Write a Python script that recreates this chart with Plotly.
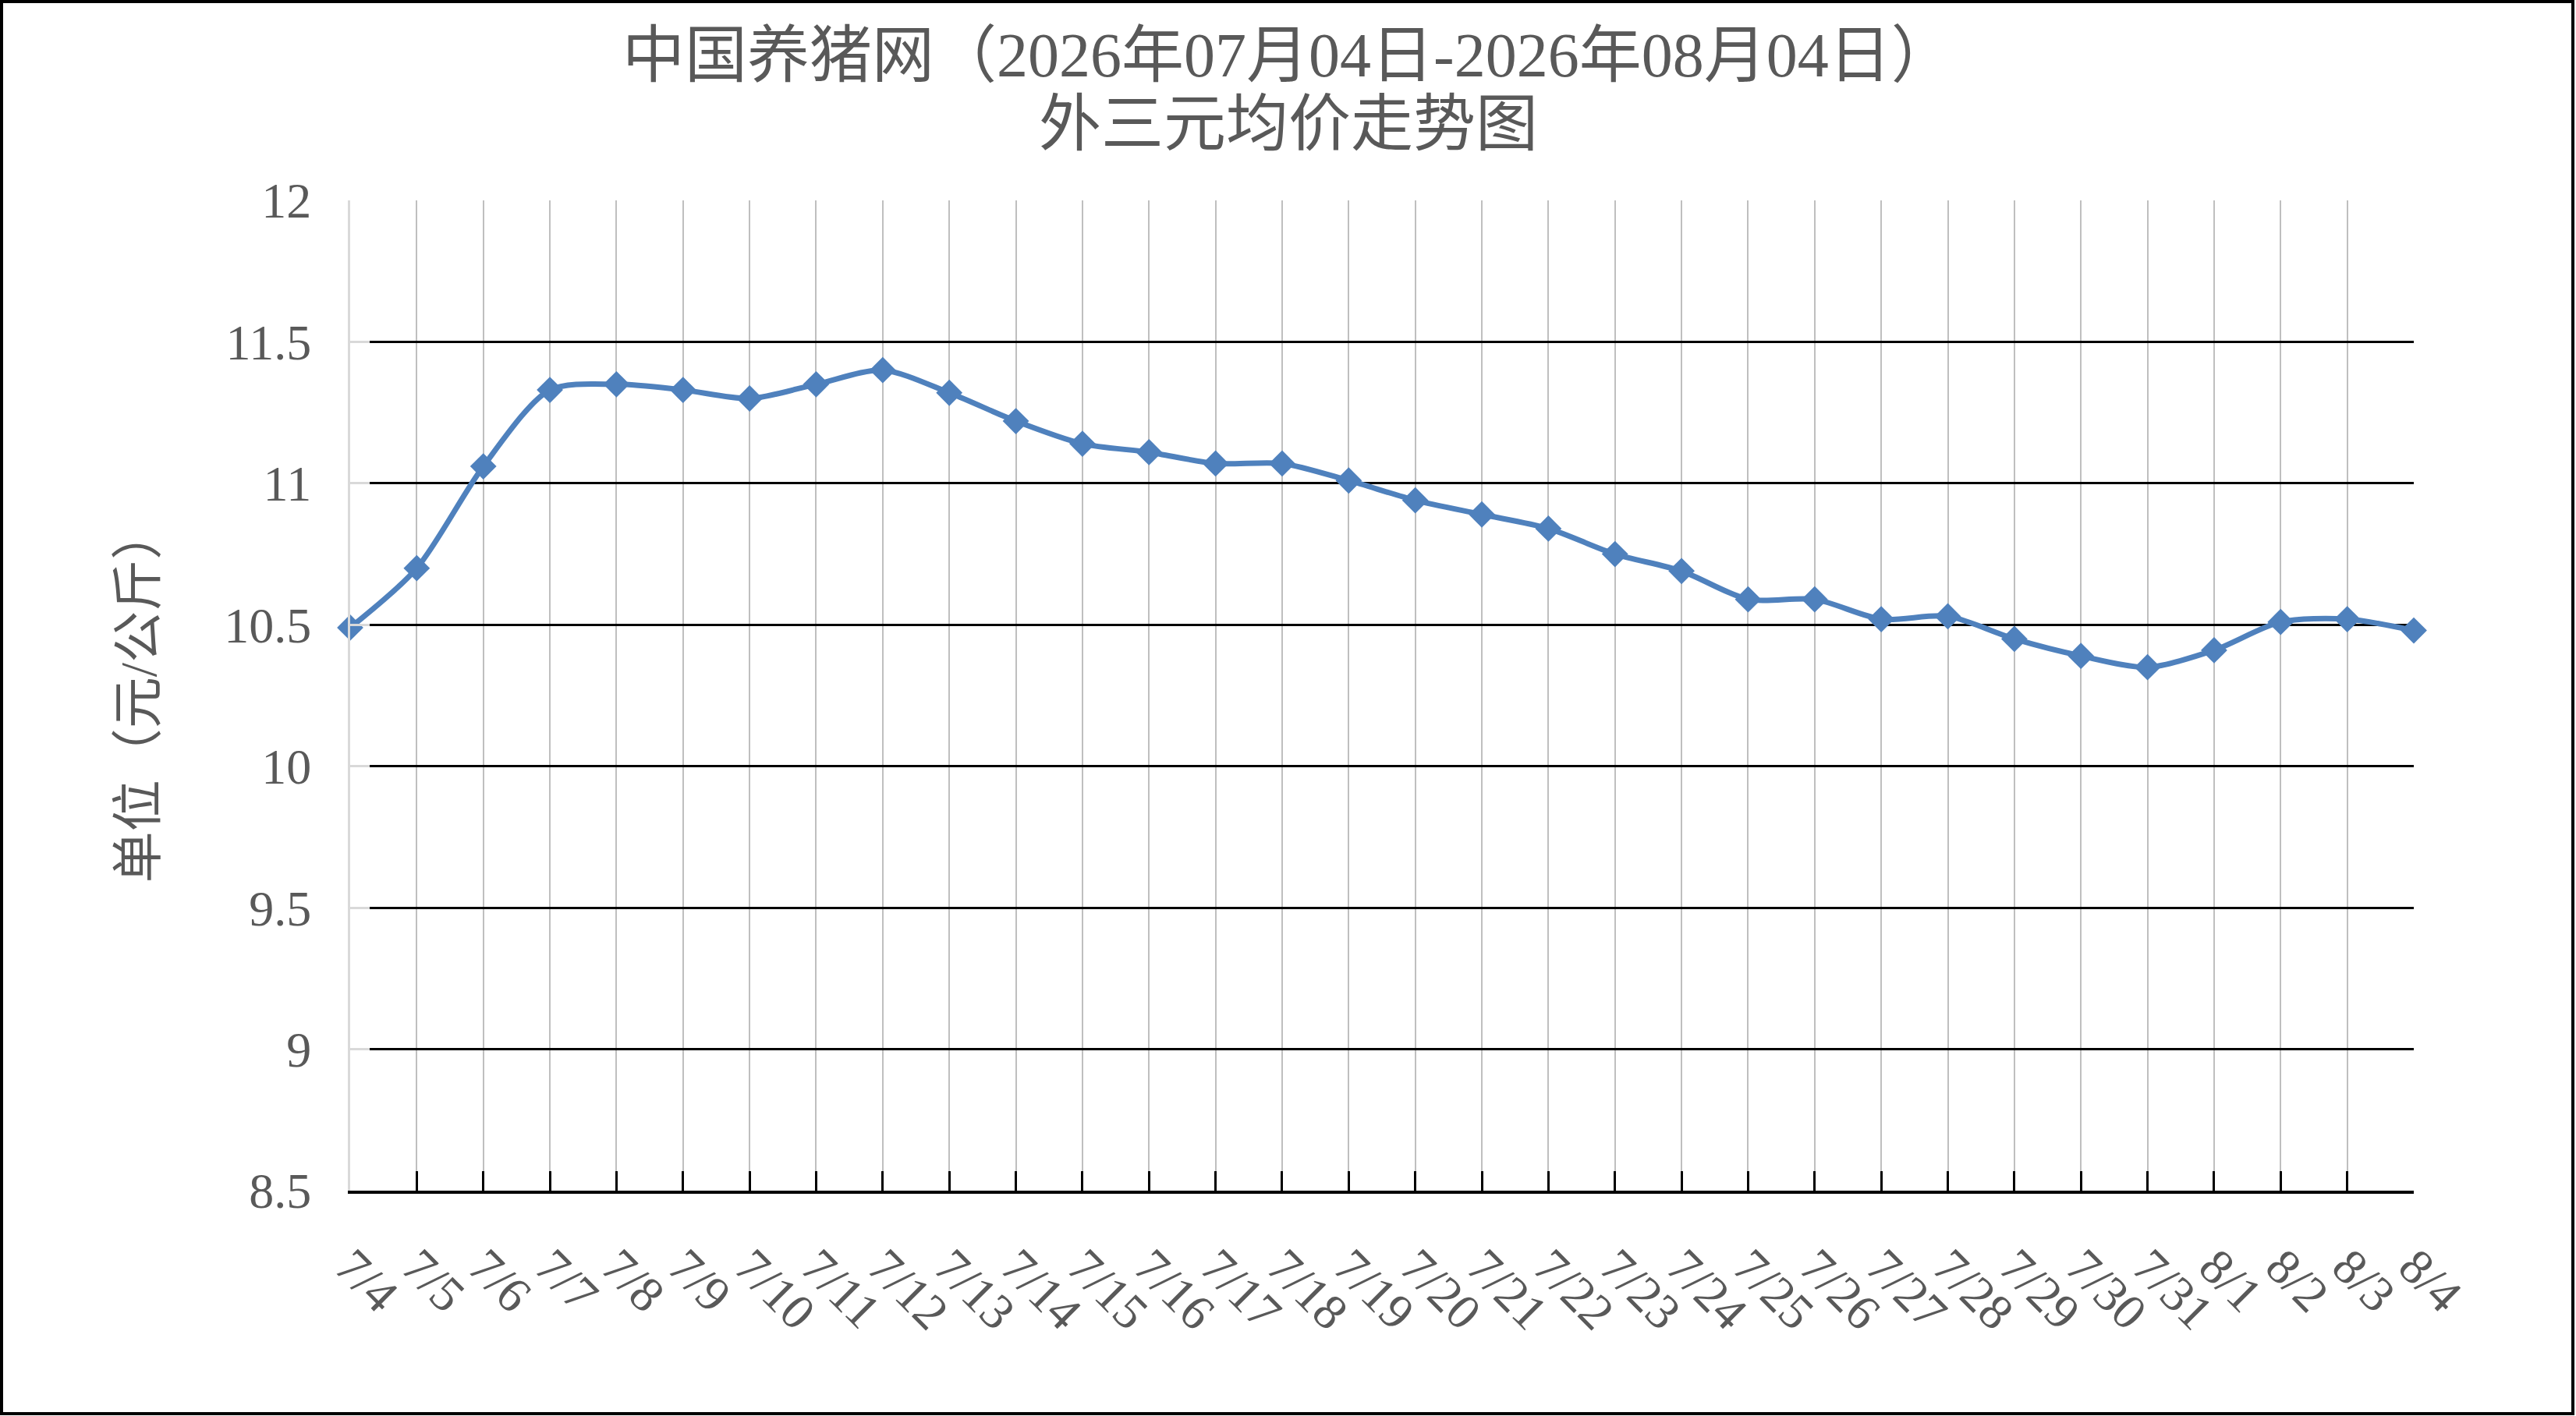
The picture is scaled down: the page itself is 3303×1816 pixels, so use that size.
import plotly.graph_objects as go

# 外三元均价 (元/公斤), 2026-07-04 .. 2026-08-04
dates = [
    "7/4", "7/5", "7/6", "7/7", "7/8", "7/9", "7/10", "7/11", "7/12", "7/13",
    "7/14", "7/15", "7/16", "7/17", "7/18", "7/19", "7/20", "7/21", "7/22", "7/23",
    "7/24", "7/25", "7/26", "7/27", "7/28", "7/29", "7/30", "7/31", "8/1", "8/2",
    "8/3", "8/4",
]
prices = [
    10.49, 10.70, 11.06, 11.33, 11.35, 11.33, 11.30, 11.35, 11.40, 11.32,
    11.22, 11.14, 11.11, 11.07, 11.07, 11.01, 10.94, 10.89, 10.84, 10.75,
    10.69, 10.59, 10.59, 10.52, 10.53, 10.45, 10.39, 10.35, 10.41, 10.51,
    10.52, 10.48,
]
y_ticks = [8.5, 9, 9.5, 10, 10.5, 11, 11.5, 12]
y_tick_text = ["8.5", "9", "9.5", "10", "10.5", "11", "11.5", "12"]

title_lines = ["中国养猪网（2026年07月04日-2026年08月04日）", "外三元均价走势图"]
y_title = "单位（元/公斤）"

W, H = 3303, 1816
ML, MR, MT, MB = 449, 208, 257, 289
plot_w = W - ML - MR
plot_h = H - MT - MB

FONT = "Liberation Serif, Noto Sans CJK SC, serif"
GRAY_TXT = "#595959"

fig = go.Figure()
fig.add_trace(
    go.Scatter(
        x=dates,
        y=prices,
        mode="lines+markers",
        line=dict(color="#4F81BD", width=7, shape="spline", smoothing=0.8),
        marker=dict(symbol="diamond", size=26, color="#4F81BD"),
        cliponaxis=False,
        showlegend=False,
    )
)

fig.update_layout(
    width=W,
    height=H,
    margin=dict(l=ML, r=MR, t=MT, b=MB, pad=0),
    paper_bgcolor="white",
    plot_bgcolor="white",
    font=dict(family=FONT, color=GRAY_TXT, size=62),
)

# two title lines, placed separately to get Excel's tighter line spacing
for text, y_px in zip(title_lines, [71, 159]):
    fig.add_annotation(
        text=text,
        xref="paper",
        yref="paper",
        x=(W / 2 - ML) / plot_w,
        y=((H - MB) - y_px) / plot_h,
        xanchor="center",
        yanchor="middle",
        showarrow=False,
        font=dict(family=FONT, size=80, color=GRAY_TXT),
    )

fig.update_xaxes(
    type="category",
    range=[0, len(dates) - 1],
    showgrid=True,
    gridcolor="#BFBFBF",
    gridwidth=2,
    showline=True,
    linecolor="black",
    linewidth=4,
    ticks="inside",
    ticklen=25,
    tickwidth=3,
    tickcolor="black",
    tickangle=45,
    tickfont=dict(family=FONT, size=64, color=GRAY_TXT),
    ticklabelstandoff=30,
    zeroline=False,
)

fig.update_yaxes(
    range=[8.5, 12],
    tickvals=y_ticks,
    ticktext=y_tick_text,
    showgrid=True,
    gridcolor="black",
    gridwidth=3,
    showline=True,
    linecolor="#D9D9D9",
    linewidth=3,
    ticks="inside",
    ticklen=25,
    tickwidth=3,
    tickcolor="#D9D9D9",
    tickfont=dict(family=FONT, size=64, color=GRAY_TXT),
    ticklabelstandoff=34,
    zeroline=False,
    title=dict(text=y_title, font=dict(family=FONT, size=66, color=GRAY_TXT), standoff=66),
)

# outer frame of the picture
fig.add_shape(
    type="rect",
    xref="paper",
    yref="paper",
    x0=(2 - ML) / plot_w,
    x1=(W - 4 - ML) / plot_w,
    y0=((H - MB) - (H - 3)) / plot_h,
    y1=((H - MB) - 2) / plot_h,
    line=dict(color="black", width=4),
    fillcolor="rgba(0,0,0,0)",
    layer="above",
)

fig.write_html(
    "out.html",
    config={"displayModeBar": False},
    post_script="document.body.style.margin='0';",
)
